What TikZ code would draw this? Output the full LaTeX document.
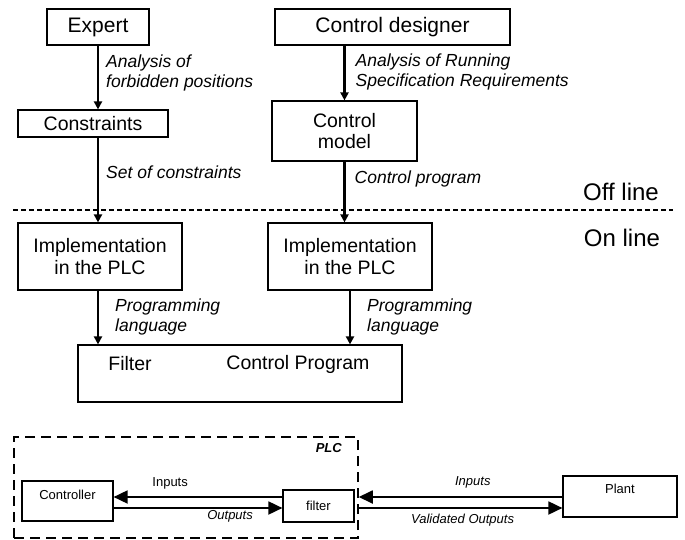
\documentclass[tikz,border=0pt]{standalone}
\usepackage{fontspec}
\setmainfont{Liberation Sans}
\usepackage{tikz}
\usetikzlibrary{positioning,arrows.meta}
\tikzset{
    box/.style={draw, line width=1.2pt, align=center, inner sep=0pt, font=\fontsize{19.5}{21.5}\selectfont},
    note/.style={font=\fontsize{17.5}{20}\selectfont\itshape, align=left, anchor=west, inner sep=0pt},
    flow/.style={line width=2.4pt, -{Triangle[length=8pt,width=8pt]}},
    wire/.style={line width=1.8pt, -{Triangle[length=14pt,width=13pt]}},
    small/.style={font=\fontsize{13}{15}\selectfont, inner sep=0pt}
}

\begin{document}
\begin{tikzpicture}[x=1pt, y=-1pt]
    \useasboundingbox (0,0) rectangle (685,540);

    % Design chain
    \node[box, minimum width=102pt, minimum height=36pt, font=\fontsize{21}{23}\selectfont] (expert) at (98,27) {Expert};
    \node[box, minimum width=235pt, minimum height=36pt, font=\fontsize{21}{23}\selectfont] (designer) at (392.5,27) {Control designer};
    \node[box, minimum width=150pt, minimum height=27pt] (constr) at (93,123.5) {Constraints};
    \node[box, minimum width=145pt, minimum height=60pt] (model) at (344.5,131) {Control\\model};
    \node[box, minimum width=164pt, minimum height=67pt] (implA) at (100,256.5) {Implementation\\in the PLC};
    \node[box, minimum width=164pt, minimum height=67pt] (implB) at (350,256.5) {Implementation\\in the PLC};
    \node[box, minimum width=324pt, minimum height=57pt] (target) at (240,373.5) {};
    \node[font=\fontsize{19.5}{21.5}\selectfont, inner sep=0pt] (filtertxt) at (130,364) {Filter};
    \node[font=\fontsize{19.5}{21.5}\selectfont, inner sep=0pt] (progtxt) at (298,364) {Control Program};

    % Arrows with labels
    \draw[flow] (expert.south) -- (expert.south |- constr.north)
        node[note, pos=.43, xshift=7pt] {Analysis of\\forbidden positions};
    \draw[flow] (expert.south |- constr.south) -- (expert.south |- implA.north)
        node[note, pos=.41, xshift=7pt] {Set of constraints};
    \draw[flow] (model.north |- designer.south) -- (model.north)
        node[note, pos=.48, xshift=10pt] {Analysis of Running\\Specification Requirements};
    \draw[flow] (model.south) -- (model.south |- implB.north)
        node[note, pos=.28, xshift=9pt] {Control program};
    \draw[flow] (expert.south |- implA.south) -- (expert.south |- target.north)
        node[note, pos=.49, xshift=16pt] {Programming\\language};
    \draw[flow] (implB.south) -- (implB.south |- target.north)
        node[note, pos=.49, xshift=16pt] {Programming\\language};

    % Off line / On line
    \draw[line width=1.5pt, dash pattern=on 5pt off 3pt] (13,210) -- (673,210);
    \node[font=\fontsize{24}{26}\selectfont, inner sep=0pt] (offline) at (621,192) {Off line};
    \node[font=\fontsize{24}{26}\selectfont, inner sep=0pt] (online) at (622,238) {On line};

    % PLC and plant
    \node[draw, line width=1.5pt, dash pattern=on 10pt off 6pt, minimum width=344pt, minimum height=101pt] (plc) at (186,487.5) {};
    \node[small, font=\fontsize{13}{15}\selectfont\bfseries\itshape, anchor=east] (plctag) at (342,448) {PLC};
    \node[box, small, minimum width=91pt, minimum height=40pt, text height=18.65pt, text depth=21.35pt] (ctrl) at (67.5,501) {Controller};
    \node[box, small, minimum width=71pt, minimum height=32pt] (filter) at (318.5,506) {filter};
    \node[box, small, minimum width=114pt, minimum height=41pt, text height=17.65pt, text depth=23.35pt] (plant) at (620,496.5) {Plant};

    \coordinate (inrow) at (0,497);
    \coordinate (outrow) at (0,508);
    \draw[wire] (filter.west |- inrow) -- (ctrl.east |- inrow)
        node[small, pos=.665, yshift=14pt] {Inputs};
    \draw[wire] (ctrl.east |- outrow) -- (filter.west |- outrow)
        node[small, font=\fontsize{13}{15}\selectfont\itshape, pos=.69, yshift=-8pt] {Outputs};
    \draw[wire] (plant.west |- inrow) -- (plc.east |- inrow)
        node[small, font=\fontsize{13}{15}\selectfont\itshape, pos=.44, yshift=15pt] {Inputs};
    \draw[wire] (plc.east |- outrow) -- (plant.west |- outrow)
        node[small, font=\fontsize{13}{15}\selectfont\itshape, pos=.51, yshift=-12pt] {Validated Outputs};
\end{tikzpicture}
\end{document}
